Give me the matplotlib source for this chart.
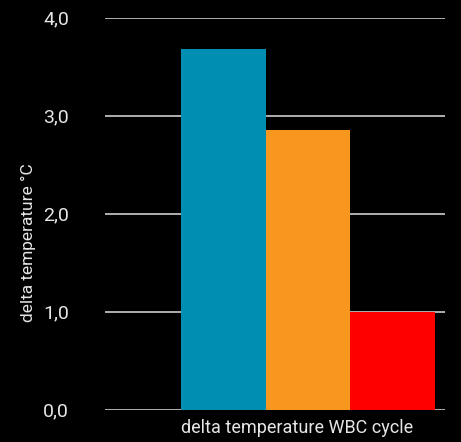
import matplotlib
matplotlib.use("Agg")
import matplotlib.pyplot as plt

series = ["A", "B", "C"]
values = [3.68, 2.85, 1.0]
colors = ["#008FB3", "#F7971E", "#FF0000"]
yticks = [0.0, 1.0, 2.0, 3.0, 4.0]
ytick_labels = ["0,0", "1,0", "2,0", "3,0", "4,0"]
category_label = "delta temperature WBC cycle"
ylabel = "delta temperature °C"

plt.rcParams['font.family'] = ['Roboto', 'DejaVu Sans']

W, H = 461, 442
fig = plt.figure(figsize=(W/100, H/100), dpi=100, facecolor="black")
ax = fig.add_axes([105/W, (H-409.7)/H, 340/W, (409.7-17.7)/H], facecolor="black")

for i, (v, c) in enumerate(zip(values, colors)):
    ax.bar(i, v, width=1.0, color=c, zorder=3)

ax.set_xlim(-1.394, 2.618)
ax.set_ylim(0, 4)
ax.set_yticks(yticks)
ax.set_yticklabels(ytick_labels, color="#E6E6E6", fontsize=14)
ax.set_xticks([0.876])
ax.set_xticklabels([category_label], color="#E6E6E6", fontsize=13)
ax.tick_params(axis="both", length=0)
ax.tick_params(axis="y", pad=26)
ax.tick_params(axis="x", pad=7)
ax.grid(axis="y", color="#BDBDBD", linewidth=1.3, zorder=1)
for s in ax.spines.values():
    s.set_visible(False)
ax.set_ylabel(ylabel, color="#E6E6E6", fontsize=12.5)
ax.yaxis.set_label_coords(-(105-36)/340, (409.7-243)/392)

fig.savefig("out.png", dpi=100, facecolor="black")
